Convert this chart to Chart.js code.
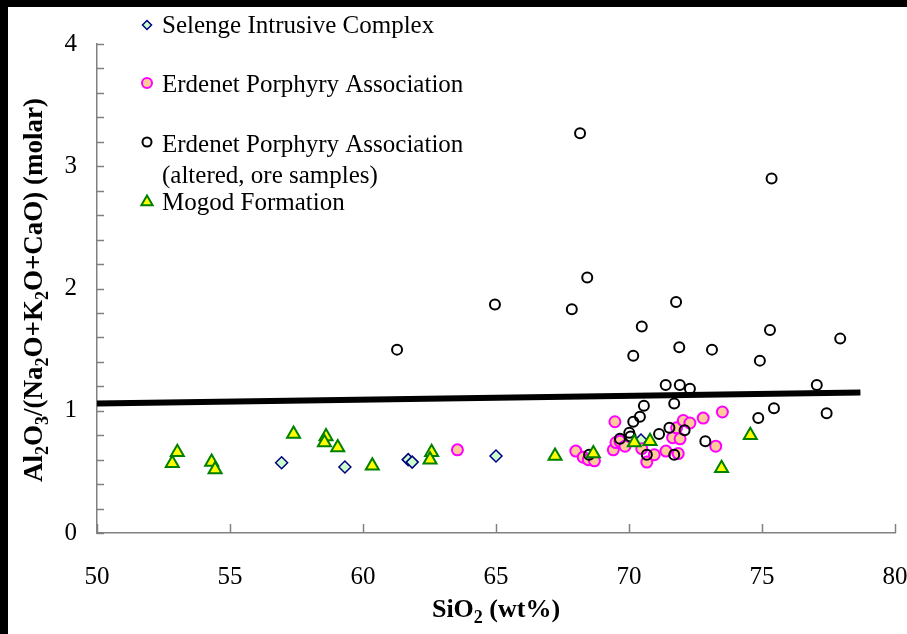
<!DOCTYPE html>
<html>
<head>
<meta charset="utf-8">
<script src="https://cdn.jsdelivr.net/npm/chart.js@4.4.0/dist/chart.umd.min.js"></script>
<style>
  html, body { margin: 0; padding: 0; background: #fff; overflow: hidden; }
  canvas { display: block; }
</style>
</head>
<body>
<canvas id="myChart" width="907" height="634"></canvas>
<script>
// Selenge Intrusive Complex
const selengeSiO2 = [56.94, 59.32, 61.70, 61.85, 65.00, 70.45];
const selengeASI  = [0.575, 0.54, 0.60, 0.58, 0.63, 0.76];

// Erdenet Porphyry Association
const erdenetSiO2 = [63.55, 68.00, 68.28, 68.47, 68.70, 69.41, 69.47, 69.51, 69.66, 69.85, 70.48, 70.67,
                     70.95, 71.39, 71.64, 71.79, 71.85, 71.92, 72.04, 72.29, 72.79, 73.26, 73.51];
const erdenetASI  = [0.68, 0.67, 0.62, 0.60, 0.59, 0.68, 0.91, 0.74, 0.75, 0.71, 0.69, 0.58,
                     0.64, 0.67, 0.78, 0.86, 0.65, 0.77, 0.92, 0.90, 0.94, 0.71, 0.99];

// Erdenet Porphyry Association (altered, ore samples)
const alteredSiO2 = [68.16, 75.36, 68.43, 64.96, 67.85, 71.77, 70.48, 75.30, 77.94, 71.89, 73.12, 61.28,
                     70.16, 74.92, 71.38, 71.91, 72.29, 77.06, 71.70, 70.56, 75.45, 74.86, 77.43, 70.41,
                     70.16, 71.52, 72.09, 71.13, 70.01, 70.06, 69.66, 72.87, 68.50, 70.67, 71.70];
const alteredASI  = [3.27, 2.90, 2.09, 1.87, 1.83, 1.89, 1.69, 1.66, 1.59, 1.52, 1.50, 1.50,
                     1.45, 1.41, 1.21, 1.21, 1.18, 1.21, 1.06, 1.04, 1.02, 0.94, 0.98, 0.95,
                     0.91, 0.86, 0.84, 0.81, 0.82, 0.79, 0.77, 0.75, 0.64, 0.64, 0.64];

// Mogod Formation
const mogodSiO2 = [52.83, 53.02, 54.31, 54.44, 57.39, 58.61, 58.55, 59.05, 60.35, 62.58, 62.52, 67.22,
                   68.66, 70.20, 70.79, 74.56, 73.48];
const mogodASI  = [0.57, 0.66, 0.58, 0.52, 0.81, 0.79, 0.74, 0.70, 0.55, 0.66, 0.60, 0.63,
                   0.65, 0.74, 0.75, 0.80, 0.53];

// dividing line
const lineSiO2 = [50, 78.7];
const lineASI  = [1.06, 1.15];

const xTicks = [50, 55, 60, 65, 70, 75, 80];
const yTicks = [0, 1, 2, 3, 4];

function toPoints(xs, ys) {
    return xs.map((x, i) => ({ x: x, y: ys[i] }));
}

const serif = '"Liberation Serif", "Times New Roman", serif';
const axisGray = '#808080';

// draws text pieces with subscripts, centred on cx
function drawRich(ctx, parts, size, cx, baseY) {
    const subSize = Math.round(size * 0.68);
    let total = 0;
    parts.forEach(p => {
        ctx.font = 'bold ' + (p[1] ? subSize : size) + 'px ' + serif;
        total += ctx.measureText(p[0]).width;
    });
    let x = cx - total / 2;
    parts.forEach(p => {
        ctx.font = 'bold ' + (p[1] ? subSize : size) + 'px ' + serif;
        ctx.fillText(p[0], x, baseY + (p[1] ? size * 0.22 : 0));
        x += ctx.measureText(p[0]).width;
    });
}

function drawMarker(ctx, style, x, y, r, fill, stroke, lw) {
    ctx.save();
    ctx.fillStyle = fill;
    ctx.strokeStyle = stroke;
    ctx.lineWidth = lw;
    ctx.beginPath();
    if (style === 'circle') {
        ctx.arc(x, y, r, 0, Math.PI * 2);
    } else if (style === 'rectRot') {
        ctx.moveTo(x, y - r); ctx.lineTo(x + r, y); ctx.lineTo(x, y + r); ctx.lineTo(x - r, y);
        ctx.closePath();
    } else {
        ctx.moveTo(x, y - r);
        ctx.lineTo(x + r * 0.866, y + r * 0.5);
        ctx.lineTo(x - r * 0.866, y + r * 0.5);
        ctx.closePath();
    }
    ctx.fill();
    ctx.stroke();
    ctx.restore();
}

const framePlugin = {
    id: 'frame',
    beforeDraw(chart) {
        const ctx = chart.ctx;
        ctx.save();
        ctx.fillStyle = '#fff';
        ctx.fillRect(0, 0, chart.width, chart.height);
        ctx.fillStyle = '#000';
        ctx.fillRect(0, 0, chart.width, 7);
        ctx.fillRect(0, 0, 8, chart.height);
        ctx.restore();
    },
    afterDraw(chart) {
        const ctx = chart.ctx;
        const xs = chart.scales.x, ys = chart.scales.y;
        const area = chart.chartArea;
        ctx.save();
        // inward tick marks
        ctx.strokeStyle = axisGray;
        ctx.lineWidth = 1.5;
        xTicks.forEach(v => {
            const px = Math.round(xs.getPixelForValue(v)) + 0.5;
            ctx.beginPath(); ctx.moveTo(px, area.bottom); ctx.lineTo(px, area.bottom - 9); ctx.stroke();
        });
        for (let i = 0; i <= 20; i++) {
            const py = Math.round(ys.getPixelForValue(i * 0.2)) + 0.5;
            ctx.beginPath(); ctx.moveTo(area.left, py); ctx.lineTo(area.left + 7, py); ctx.stroke();
        }

        // axis titles
        ctx.fillStyle = '#000';
        ctx.textBaseline = 'alphabetic';
        drawRich(ctx, [['SiO'], ['2', true], [' (wt%)']], 26, (area.left + area.right) / 2, 617);
        ctx.save();
        ctx.translate(42, 290);
        ctx.rotate(-Math.PI / 2);
        drawRich(ctx, [['Al'], ['2', true], ['O'], ['3', true], ['/(Na'], ['2', true], ['O+K'], ['2', true],
                       ['O+CaO) (molar)']], 27, 0, 0);
        ctx.restore();

        // legend
        const ds = chart.data.datasets;
        const rows = [
            { d: ds[0], y: 25, r: 4.5, text: ['Selenge Intrusive Complex'], base: 33 },
            { d: ds[1], y: 83, r: 5, text: ['Erdenet Porphyry Association'], base: 92 },
            { d: ds[2], y: 142, r: 4.5, text: ['Erdenet Porphyry Association', '(altered, ore samples)'], base: 152 },
            { d: ds[3], y: 202, r: 6.5, text: ['Mogod Formation'], base: 210 }
        ];
        ctx.font = '25px ' + serif;
        rows.forEach(r => {
            drawMarker(ctx, r.d.pointStyle, 147, r.y, r.r, r.d.backgroundColor, r.d.borderColor, r.d.borderWidth);
            ctx.fillStyle = '#000';
            r.text.forEach((t, k) => ctx.fillText(t, 162, r.base + k * 31));
        });
        ctx.restore();
    }
};

const ctx = document.getElementById('myChart').getContext('2d');
const myChart = new Chart(ctx, {
    type: 'scatter',
    data: {
        datasets: [
            {
                label: 'Selenge Intrusive Complex',
                data: toPoints(selengeSiO2, selengeASI),
                pointStyle: 'rectRot',
                pointRadius: 6,
                backgroundColor: '#ccffcc',
                borderColor: '#000080',
                borderWidth: 1.5,
                order: 4
            },
            {
                label: 'Erdenet Porphyry Association',
                data: toPoints(erdenetSiO2, erdenetASI),
                pointStyle: 'circle',
                pointRadius: 5.5,
                backgroundColor: '#ffcc99',
                borderColor: '#ff00ff',
                borderWidth: 2,
                order: 3
            },
            {
                label: 'Erdenet Porphyry Association (altered, ore samples)',
                data: toPoints(alteredSiO2, alteredASI),
                pointStyle: 'circle',
                pointRadius: 5,
                backgroundColor: 'rgba(255,255,255,0)',
                borderColor: '#000000',
                borderWidth: 2,
                order: 2
            },
            {
                label: 'Mogod Formation',
                data: toPoints(mogodSiO2, mogodASI),
                pointStyle: 'triangle',
                pointRadius: 7.5,
                backgroundColor: '#ffff00',
                borderColor: '#008000',
                borderWidth: 2,
                order: 1
            },
            {
                label: 'line',
                type: 'line',
                data: toPoints(lineSiO2, lineASI),
                borderColor: '#000',
                borderWidth: 6,
                pointRadius: 0,
                showLine: true,
                clip: false,
                order: 0
            }
        ]
    },
    options: {
        responsive: false,
        animation: false,
        layout: { padding: { top: 44, right: 12, left: 0, bottom: 0 } },
        plugins: {
            legend: { display: false },
            tooltip: { enabled: false }
        },
        scales: {
            x: {
                type: 'linear',
                min: 50,
                max: 80,
                afterFit: s => {
                    s.height = 101;
                    // tick padding would otherwise be reserved at both ends of the axis
                    s.paddingLeft = 0;
                    s.paddingRight = 0;
                },
                afterBuildTicks: s => { s.ticks = xTicks.map(v => ({ value: v })); },
                ticks: {
                    font: { family: serif, size: 25 },
                    color: '#000',
                    padding: 29,
                    maxRotation: 0
                },
                grid: { display: false, drawTicks: false },
                border: { color: axisGray, width: 1.5 }
            },
            y: {
                min: 0,
                max: 4,
                afterFit: s => { s.width = 97; },
                afterBuildTicks: s => { s.ticks = yTicks.map(v => ({ value: v })); },
                ticks: {
                    font: { family: serif, size: 25 },
                    color: '#000',
                    padding: 20
                },
                grid: { display: false, drawTicks: false },
                border: { color: axisGray, width: 1.5 }
            }
        }
    },
    plugins: [framePlugin]
});
</script>
</body>
</html>
